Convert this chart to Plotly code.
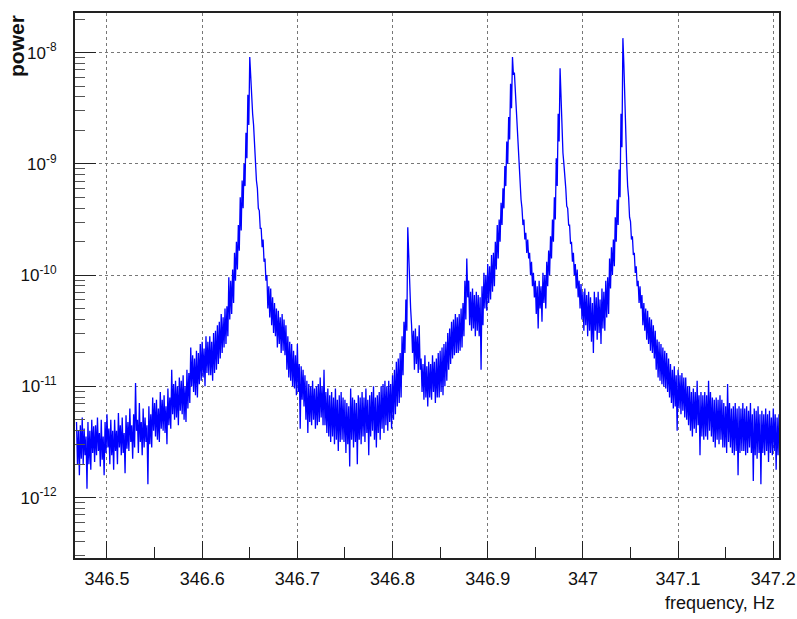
import numpy as np
import plotly.graph_objects as go

# Frequency bins of the spectrum (Hz): each bin is 0.002 Hz wide
freq_start = 346.468
freq_step = 0.002

# Trace spread inside each bin as log10(power):
# the highest and the lowest excursion of the noisy trace in that bin.
log10_power_max = [
    -11.32, -11.40, -11.35, -11.28, -11.38, -11.45, -11.32, -11.40, -11.30, -11.36,
    -11.35, -11.28, -11.42, -11.30, -11.45, -11.32, -11.25, -11.38, -11.30, -11.40,
    -11.30, -11.40, -11.24, -11.35, -11.28, -11.42, -11.26, -11.32, -11.20, -11.35,
    -11.25, -10.97, -11.30, -11.15, -11.32, -11.20, -11.28, -11.35, -11.18, -11.25,
    -11.10, -11.15, -11.12, -11.20, -11.05, -11.12, -11.08, -11.18, -11.02, -11.10,
    -10.85, -10.98, -10.95, -11.00, -10.92, -10.95, -10.90, -11.00, -10.85, -10.88,
    -10.65, -10.72, -10.75, -10.68, -10.70, -10.62, -10.60, -10.66, -10.55, -10.60,
    -10.55, -10.60, -10.52, -10.50, -10.45, -10.42, -10.35, -10.38, -10.30, -10.28,
    -10.02, -10.05, -9.95, -9.80, -9.70, -9.55, -9.30, -9.15, -9.00, -8.72,
    -8.38, -8.04, -8.30, -8.65, -8.95, -9.22, -9.42, -9.58, -9.68, -9.85,
    -10.00, -10.10, -10.12, -10.20, -10.25, -10.30, -10.32, -10.38, -10.35, -10.40,
    -10.45, -10.55, -10.60, -10.62, -10.68, -10.72, -10.62, -10.80, -10.82, -10.85,
    -10.90, -10.95, -10.98, -11.00, -10.95, -11.02, -11.00, -10.98, -10.92, -11.00,
    -10.85, -11.05, -11.02, -11.08, -11.05, -11.10, -11.02, -11.12, -11.08, -11.05,
    -11.10, -11.12, -11.15, -11.18, -11.02, -11.10, -11.12, -11.15, -11.08, -11.10,
    -11.05, -11.10, -11.02, -11.12, -11.08, -11.05, -11.00, -11.10, -11.08, -11.05,
    -11.00, -10.98, -10.95, -11.00, -10.95, -10.98, -10.90, -10.85, -10.78, -10.75,
    -10.70, -10.55, -10.42, -10.22, -9.57, -10.05, -10.45, -10.50, -10.48, -10.55,
    -10.45, -10.75, -10.80, -10.72, -10.82, -10.78, -10.80, -10.72, -10.78, -10.75,
    -10.70, -10.68, -10.65, -10.62, -10.60, -10.52, -10.48, -10.42, -10.40, -10.35,
    -10.38, -10.35, -10.30, -10.25, -10.05, -9.85, -10.05, -10.15, -10.12, -10.18,
    -10.15, -10.18, -10.20, -10.10, -9.98, -10.00, -9.90, -9.92, -9.82, -9.80,
    -9.70, -9.55, -9.50, -9.35, -9.22, -9.02, -8.80, -8.58, -8.28, -8.04,
    -8.18, -8.42, -8.80, -9.15, -9.40, -9.50, -9.62, -9.68, -9.80, -9.88,
    -9.98, -10.05, -10.10, -10.05, -10.10, -9.98, -10.00, -9.88, -9.78, -9.65,
    -9.50, -9.30, -8.95, -8.55, -8.14, -8.70, -9.00, -9.22, -9.40, -9.55,
    -9.70, -9.80, -9.90, -9.95, -10.05, -10.08, -10.15, -10.12, -10.18, -10.15,
    -10.20, -10.25, -10.15, -10.20, -10.15, -10.22, -10.12, -10.15, -10.05, -10.02,
    -9.85, -9.75, -9.68, -9.48, -9.32, -9.05, -8.55, -7.87, -8.45, -9.00,
    -9.30, -9.52, -9.65, -9.80, -9.92, -10.05, -10.10, -10.18, -10.25, -10.30,
    -10.32, -10.38, -10.40, -10.45, -10.50, -10.58, -10.60, -10.62, -10.65, -10.68,
    -10.70, -10.75, -10.80, -10.85, -10.82, -10.90, -10.85, -10.90, -10.88, -10.92,
    -10.92, -11.00, -11.00, -11.05, -11.02, -11.05, -10.95, -11.08, -11.05, -11.08,
    -11.05, -11.08, -10.95, -11.05, -11.10, -11.12, -11.10, -11.12, -11.08, -11.12,
    -11.15, -11.18, -10.98, -11.15, -11.20, -11.18, -11.15, -11.20, -11.18, -11.20,
    -11.15, -11.20, -11.18, -11.22, -11.15, -11.25, -11.20, -11.22, -11.18, -11.25,
    -11.22, -11.25, -11.20, -11.25, -11.22, -11.28, -11.20, -11.25, -11.28, -11.25,
]
log10_power_min = [
    -11.70, -11.80, -11.65, -11.70, -11.62, -11.92, -11.70, -11.75, -11.60, -11.68,
    -11.62, -11.58, -11.72, -11.66, -11.80, -11.60, -11.55, -11.70, -11.62, -11.75,
    -11.58, -11.70, -11.55, -11.62, -11.60, -11.78, -11.56, -11.58, -11.50, -11.65,
    -11.55, -11.40, -11.60, -11.50, -11.62, -11.55, -11.50, -11.88, -11.52, -11.55,
    -11.40, -11.45, -11.48, -11.50, -11.38, -11.40, -11.42, -11.52, -11.35, -11.38,
    -11.25, -11.30, -11.28, -11.35, -11.22, -11.25, -11.30, -11.32, -11.20, -11.15,
    -11.00, -11.05, -11.08, -11.10, -10.98, -10.95, -10.92, -11.00, -10.88, -10.90,
    -10.90, -10.95, -10.88, -10.85, -10.80, -10.75, -10.70, -10.65, -10.62, -10.55,
    -10.40, -10.35, -10.25, -10.05, -9.95, -9.78, -9.60, -9.40, -9.20, -8.95,
    -8.65, -8.25, -8.55, -8.85, -9.15, -9.40, -9.58, -9.75, -9.88, -10.05,
    -10.30, -10.38, -10.45, -10.52, -10.55, -10.65, -10.62, -10.70, -10.68, -10.72,
    -10.85, -10.92, -10.95, -11.00, -11.02, -11.08, -11.05, -11.38, -11.12, -11.18,
    -11.30, -11.42, -11.32, -11.35, -11.30, -11.38, -11.35, -11.32, -11.28, -11.35,
    -11.35, -11.42, -11.45, -11.50, -11.45, -11.52, -11.48, -11.58, -11.50, -11.48,
    -11.50, -11.60, -11.52, -11.72, -11.48, -11.55, -11.50, -11.70, -11.48, -11.52,
    -11.45, -11.50, -11.42, -11.62, -11.45, -11.40, -11.48, -11.55, -11.42, -11.48,
    -11.38, -11.42, -11.35, -11.40, -11.32, -11.38, -11.30, -11.25, -11.18, -11.15,
    -11.10, -10.90, -10.70, -10.50, -9.85, -10.30, -10.70, -10.85, -10.80, -10.88,
    -10.85, -11.05, -11.12, -11.10, -11.18, -11.10, -11.12, -11.05, -11.15, -11.10,
    -11.10, -11.05, -11.08, -11.00, -10.95, -10.85, -10.80, -10.75, -10.72, -10.70,
    -10.70, -10.68, -10.65, -10.55, -10.40, -10.20, -10.45, -10.50, -10.48, -10.55,
    -10.50, -10.55, -10.85, -10.45, -10.30, -10.32, -10.25, -10.22, -10.15, -10.10,
    -9.95, -9.85, -9.70, -9.55, -9.40, -9.20, -9.00, -8.78, -8.50, -8.20,
    -8.35, -8.62, -9.00, -9.32, -9.55, -9.68, -9.80, -9.85, -10.00, -10.10,
    -10.20, -10.35, -10.48, -10.30, -10.42, -10.25, -10.30, -10.10, -10.00, -9.85,
    -9.70, -9.50, -9.20, -8.80, -8.40, -8.90, -9.18, -9.38, -9.55, -9.72,
    -9.88, -10.00, -10.12, -10.20, -10.30, -10.40, -10.50, -10.45, -10.55, -10.50,
    -10.60, -10.70, -10.50, -10.58, -10.52, -10.62, -10.48, -10.50, -10.38, -10.35,
    -10.12, -10.00, -9.92, -9.70, -9.55, -9.30, -8.85, -8.10, -8.70, -9.20,
    -9.48, -9.68, -9.82, -9.98, -10.10, -10.25, -10.30, -10.45, -10.50, -10.58,
    -10.62, -10.68, -10.70, -10.75, -10.85, -10.92, -10.95, -10.98, -11.00, -11.02,
    -11.05, -11.10, -11.15, -11.20, -11.18, -11.40, -11.20, -11.25, -11.22, -11.28,
    -11.30, -11.35, -11.40, -11.45, -11.38, -11.42, -11.35, -11.62, -11.45, -11.48,
    -11.45, -11.48, -11.40, -11.45, -11.50, -11.55, -11.48, -11.52, -11.48, -11.55,
    -11.55, -11.60, -11.50, -11.55, -11.60, -11.62, -11.58, -11.80, -11.60, -11.58,
    -11.58, -11.62, -11.60, -11.55, -11.60, -11.85, -11.62, -11.65, -11.60, -11.88,
    -11.60, -11.62, -11.58, -11.68, -11.60, -11.62, -11.58, -11.75, -11.62, -11.60,
]

x_tick_vals = [346.5, 346.6, 346.7, 346.8, 346.9, 347.0, 347.1, 347.2]
x_tick_text = ["346.5", "346.6", "346.7", "346.8", "346.9", "347", "347.1", "347.2"]
y_exponents = [-12, -11, -10, -9, -8]

# The trace visits the bin's high point, then its low point, bin after bin.
n = len(log10_power_max)
bin_freq = freq_start + freq_step * np.arange(n)
freq = np.empty(2 * n)
logp = np.empty(2 * n)
freq[0::2] = bin_freq
freq[1::2] = bin_freq + freq_step / 2
logp[0::2] = log10_power_max
logp[1::2] = log10_power_min
power = 10.0 ** logp

y_tick_vals = [10.0 ** e for e in y_exponents]
y_tick_text = ["10<sup>%d</sup>" % e for e in y_exponents]
y_minor_vals = [m * 10.0 ** e for e in range(-13, -7) for m in range(2, 10)]

FONT = "Liberation Sans, Arial, sans-serif"

fig = go.Figure()
fig.add_trace(go.Scatter(
    x=freq, y=power, mode="lines",
    line=dict(color="#0000ff", width=1.3),
    showlegend=False, hoverinfo="skip",
))

axis_common = dict(
    showline=True, mirror=True, linecolor="#222", linewidth=2,
    ticks="inside", tickcolor="#222", tickwidth=1,
    showgrid=True, gridcolor="#777", griddash="dot", gridwidth=1,
    zeroline=False, ticklabeloverflow="allow", automargin=False,
)

fig.update_layout(
    width=797, height=619,
    margin=dict(l=75, r=18, t=13, b=61),
    paper_bgcolor="white", plot_bgcolor="white",
    xaxis=dict(
        range=[346.4664, 347.206],
        tickmode="array", tickvals=x_tick_vals, ticktext=x_tick_text,
        ticklen=17, ticklabelstandoff=3,
        tickfont=dict(family=FONT, size=18, color="#111"),
        minor=dict(tickmode="linear", tick0=346.45, dtick=0.05,
                   ticks="inside", ticklen=11, tickcolor="#222", showgrid=False),
        **axis_common,
    ),
    yaxis=dict(
        type="log",
        range=[-12.543, -7.644],
        tickmode="array", tickvals=y_tick_vals, ticktext=y_tick_text,
        ticklen=21, ticklabelstandoff=13,
        tickfont=dict(family=FONT, size=17, color="#111"),
        minor=dict(tickmode="array", tickvals=y_minor_vals,
                   ticks="inside", ticklen=10, tickcolor="#555", showgrid=False),
        **axis_common,
    ),
    annotations=[
        dict(text="<b>power</b>", textangle=-90, showarrow=False,
             xref="paper", yref="paper", x=(16 - 75) / 704, y=1.0,
             xanchor="center", yanchor="top",
             font=dict(family=FONT, size=21, color="#111")),
        dict(text="frequency, Hz", showarrow=False,
             xref="paper", yref="paper", x=(777 - 75) / 704, y=-(603 - 557.7) / 545,
             xanchor="right", yanchor="middle",
             font=dict(family=FONT, size=18, color="#111")),
    ],
)

fig.write_html("out.html", config={"displayModeBar": False},
               post_script="document.body.style.margin='0';")
